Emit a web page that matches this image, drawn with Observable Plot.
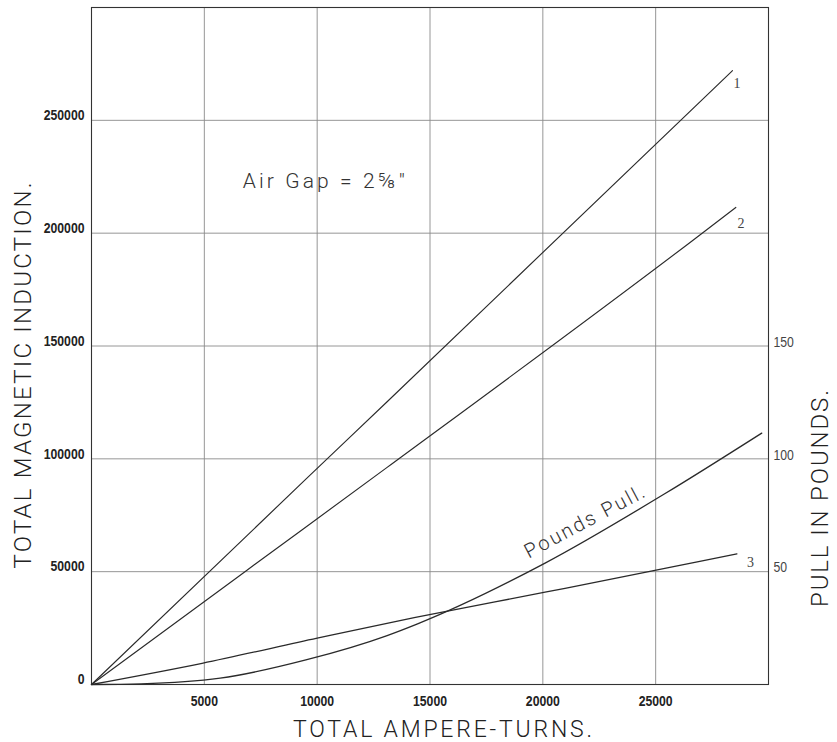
<!DOCTYPE html>
<html>
<head>
<meta charset="utf-8">
<script src="https://cdn.jsdelivr.net/npm/d3@7"></script>
<script src="https://cdn.jsdelivr.net/npm/@observablehq/plot@0.6"></script>
<style>
  html, body { margin: 0; padding: 0; background: #fff; }
  svg { display: block; }
</style>
</head>
<body>
<div id="chart"></div>
<script>
// ---- data ----
const ampereTurns1 = [0, 9500, 13100, 28400];
const induction1   = [0, 91000, 125300, 272000];

const ampereTurns2 = [0, 6800, 13100, 26800, 28550];
const induction2   = [0, 50000, 96200, 198000, 211400];

const ampereTurns3 = [0, 4900, 10000, 14300, 20100, 24800, 26900, 28600];
const induction3   = [0, 9400, 20500, 29600, 40900, 50200, 54500, 57900];

const ampereTurnsPull = [0, 2200, 5700, 9500, 13100, 14450, 20100, 25400, 29700];
const poundsPull      = [0, 0.3, 2.8, 10.9, 21.7, 26.9, 53.8, 84.5, 111.4];

const xTicks = [5000, 10000, 15000, 20000, 25000];
const yTicks = [0, 50000, 100000, 150000, 200000, 250000];
const pullTicks = [50, 100, 150];

const curveLabels = ["1", "2", "3"];
const curveLabelX = [28600, 28780, 29200];
const curveLabelY = [266300, 204200, 54200];

const xTitle = "TOTAL AMPERE-TURNS.";
const yTitle = "TOTAL MAGNETIC INDUCTION.";
const pullTitle = "PULL IN POUNDS.";
const airGapText = ["Air Gap = 2⅝″"];
const airGapX = [6700];
const airGapY = [220000];
const pullLabel = ["Pounds Pull."];
const pullLabelX = [21850];
const pullLabelY = [72100];

// ---- build tables ----
const toRows = (xs, ys, k = 1) => xs.map((x, i) => ({x, y: ys[i] * k}));
const rows1 = toRows(ampereTurns1, induction1);
const rows2 = toRows(ampereTurns2, induction2);
const rows3 = toRows(ampereTurns3, induction3);
const rowsPull = toRows(ampereTurnsPull, poundsPull, 1000);

const tickFont = '"Liberation Sans", Arial, sans-serif';
const light = 'Roboto, "Liberation Sans", sans-serif';
const ink = "#2a2a2a";

const lineOpts = {x: "x", y: "y", stroke: ink, strokeWidth: 1.15, curve: "monotone-x"};

const svg = Plot.plot({
  width: 837,
  height: 742,
  marginLeft: 91,
  marginRight: 69,
  marginTop: 7,
  marginBottom: 58,
  style: {background: "#fff", color: ink},
  x: {domain: [0, 30000], axis: null},
  y: {domain: [0, 300000], axis: null},
  marks: [
    Plot.gridX(xTicks, {stroke: "#8a8a8a", strokeOpacity: 1, strokeWidth: 0.9}),
    Plot.gridY(yTicks.filter(d => d > 0), {stroke: "#8a8a8a", strokeOpacity: 1, strokeWidth: 0.9}),
    Plot.frame({stroke: "#333", strokeWidth: 1.1}),
    Plot.axisX(xTicks, {tickSize: 0, tickPadding: 11, tickFormat: d => String(d), label: null,
      fontSize: 15, fontWeight: "bold", fontFamily: tickFont, fill: "#222"}),
    Plot.axisY(yTicks, {anchor: "left", tickSize: 0, tickPadding: 7, dy: -5, tickFormat: d => String(d), label: null,
      fontSize: 15, fontWeight: "bold", fontFamily: tickFont, fill: "#222"}),
    Plot.axisY(pullTicks.map(d => d * 1000), {anchor: "right", tickSize: 0, tickPadding: 5, dy: -4,
      tickFormat: d => String(d / 1000), label: null, fontSize: 15, fontFamily: tickFont, fill: "#444"}),
    Plot.line(rows1, lineOpts),
    Plot.line(rows2, lineOpts),
    Plot.line(rows3, {...lineOpts, strokeWidth: 1.3}),
    Plot.line(rowsPull, {...lineOpts, strokeWidth: 1.3}),
    Plot.text(curveLabels, {x: (d, i) => curveLabelX[i], y: (d, i) => curveLabelY[i], text: d => d,
      fontFamily: '"Liberation Serif", "DejaVu Serif", serif', fontSize: 14, fill: "#444"}),
    Plot.text(airGapText, {x: (d, i) => airGapX[i], y: (d, i) => airGapY[i], text: d => d,
      textAnchor: "start", lineAnchor: "bottom", fontSize: 21, fontWeight: 300, fontFamily: light, fill: "#333"}),
    Plot.text(pullLabel, {x: (d, i) => pullLabelX[i], y: (d, i) => pullLabelY[i], text: d => d,
      rotate: -28, fontSize: 20, fontWeight: 300, fontFamily: light, fill: "#333"}),
    Plot.text([xTitle], {frameAnchor: "bottom", text: d => d, textAnchor: "middle", lineAnchor: "bottom",
      dx: 12.5, dy: 52, fontSize: 23, fontWeight: 300, fontFamily: light, fill: "#222"}),
    Plot.text([yTitle], {frameAnchor: "left", text: d => d, textAnchor: "middle", lineAnchor: "middle",
      rotate: -90, dx: -68, dy: 29.5, fontSize: 24, fontWeight: 300, fontFamily: light, fill: "#222"}),
    Plot.text([pullTitle], {frameAnchor: "right", text: d => d, textAnchor: "middle", lineAnchor: "middle",
      rotate: -90, dx: 52, dy: 152.5, fontSize: 24, fontWeight: 300, fontFamily: light, fill: "#222"})
  ]
});

// stretch the letter-spaced titles to the widths seen in the reference
const textWidths = new Map([
  [xTitle, 299], [yTitle, 386], [pullTitle, 217],
  [airGapText[0], 162], [pullLabel[0], 133]
]);
d3.select(svg).selectAll("text").each(function () {
  const w = textWidths.get(this.textContent);
  if (w) d3.select(this).attr("textLength", w).attr("lengthAdjust", "spacing");
});
// the reference's tick numerals are a condensed face: squeeze them to that width
d3.select(svg).selectAll('g[aria-label$="tick label"] text').each(function () {
  const n = this.textContent.length;
  d3.select(this).attr("textLength", n * 6.8).attr("lengthAdjust", "spacingAndGlyphs");
});

document.getElementById("chart").appendChild(svg);
</script>
</body>
</html>
